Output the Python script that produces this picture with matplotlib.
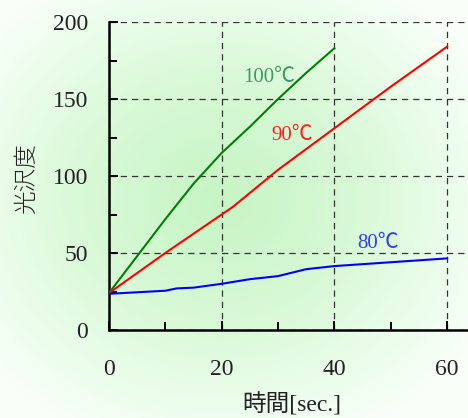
import numpy as np
import matplotlib
matplotlib.use("Agg")
import matplotlib.pyplot as plt
from matplotlib.colors import LinearSegmentedColormap
from matplotlib.ticker import MultipleLocator

# Data
t100 = [0, 5, 10, 15, 20, 25, 30, 35, 40]
g100 = [24, 48, 72, 95, 115, 132, 150, 167, 183]
t90 = [0, 10, 20, 22, 30, 40, 50, 60]
g90 = [24, 50, 75, 80, 104, 131, 158, 184]
t80 = [0, 5, 10, 12, 15, 18, 20, 25, 30, 35, 40, 50, 60]
g80 = [23.5, 24.5, 25.5, 27, 27.5, 29, 30, 33, 35, 39.5, 41.5, 44, 46.5]
xticks = [0, 20, 40, 60]
yticks = [0, 50, 100, 150, 200]
labels = ["100℃", "90℃", "80℃"]

W, H = 468, 418
fig = plt.figure(figsize=(W / 100, H / 100), dpi=100)

# background radial gradient
bg = fig.add_axes([0, 0, 1, 1], zorder=-10)
bg.axis("off")
yy, xx = np.mgrid[0:H, 0:W]
cx, cy = 220, 200
d = np.sqrt(((xx - cx) / 300.0) ** 2 + ((yy - cy) / 260.0) ** 2)
d = np.clip(d, 0, 1)
cmap = LinearSegmentedColormap.from_list(
    "g", [(0, "#c6f5c4"), (0.45, "#d8f9d6"), (0.75, "#eafdea"), (1, "#f8fff8")])
bg.imshow(d, cmap=cmap, vmin=0, vmax=1, aspect="auto", extent=[0, 1, 0, 1], origin="upper")
bg.set_xlim(0, 1)
bg.set_ylim(0, 1)

left = 109 / W
bottom = (H - 330) / H
top = (H - 22) / H
ax = fig.add_axes([left, bottom, 1 - left, top - bottom])
ax.patch.set_alpha(0)

ax.plot(t100, g100, color="#008000", lw=1.5, zorder=3)
ax.plot(t90, g90, color="#ff0000", lw=1.5, zorder=3)
ax.plot(t80, g80, color="#0000ff", lw=1.5, zorder=3)

ax.set_xlim(0, 63.7)
ax.set_ylim(0, 200)
ax.set_xticks(xticks)
ax.set_yticks(yticks)
ax.xaxis.set_minor_locator(MultipleLocator(10))
ax.yaxis.set_minor_locator(MultipleLocator(25))

for s in ["top", "right"]:
    ax.spines[s].set_visible(False)
for s in ["left", "bottom"]:
    ax.spines[s].set_linewidth(1.8)
    ax.spines[s].set_color("black")

serif = ["Liberation Serif", "Noto Sans CJK JP"]
ax.tick_params(which="both", direction="in", width=1.4, colors="black")
ax.tick_params(which="major", length=6.5)
ax.tick_params(which="minor", length=5.5)
ax.tick_params(axis="x", which="major", pad=21, labelsize=17, labelcolor="#222222")
ax.tick_params(axis="y", which="major", pad=15, labelsize=17, labelcolor="#222222")
for lab in ax.get_xticklabels() + ax.get_yticklabels():
    lab.set_fontfamily(serif)

ax.grid(True, which="major", color="#333333", linestyle=(0, (5, 4)), lw=0.9, zorder=1)

fig.text(292 / W, 1 - 405 / H, "時間[sec.]", ha="center", va="center",
         fontsize=17, family=serif, color="#222222")
fig.text(26 / W, 1 - 179 / H, "光沢度", ha="center", va="center", rotation=90,
         fontsize=17, family=["Noto Sans CJK JP"], color="#222222", fontweight="light")

ax.text(23.8, 164, labels[0], color="#3a9a6a", fontsize=15, family=serif,
        ha="left", va="center")
ax.text(28.8, 126, labels[1], color="#ff2020", fontsize=15, family=serif,
        ha="left", va="center")
ax.text(44.1, 56, labels[2], color="#2f3fee", fontsize=15, family=serif,
        ha="left", va="center")

fig.savefig("out.png", dpi=100)
